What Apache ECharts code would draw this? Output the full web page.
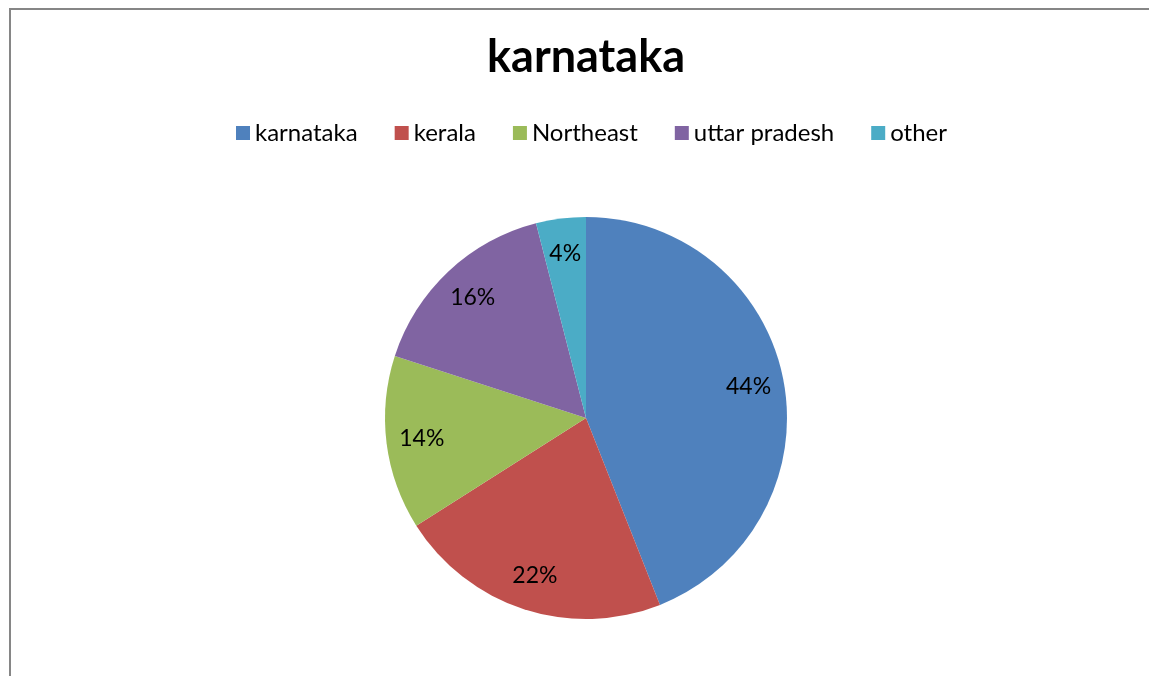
<!DOCTYPE html>
<html lang="en">
<head>
    <meta charset="UTF-8">
    <title>karnataka</title>
    <script src="https://cdn.jsdelivr.net/npm/echarts@6/dist/echarts.min.js"></script>
    <style>
        html, body { margin: 0; padding: 0; background: #fff; }
        #frame { position: absolute; left: 9px; top: 8px; width: 1150px; height: 680px;
                 border-left: 2px solid #868686; border-top: 2px solid #868686; }
        #main { position: absolute; left: 0; top: 0; width: 1149px; height: 676px; }
    </style>
</head>
<body>
<div id="frame"></div>
<div id="main"></div>
<script type="text/javascript">
    // 数据
    var regions = ['karnataka', 'kerala', 'Northeast', 'uttar pradesh', 'other'];
    var shares = [44, 22, 14, 16, 4];
    var colors = ['#4F81BD', '#C0504D', '#9BBB59', '#8064A2', '#4BACC6'];

    var pieData = [];
    for (var i = 0; i < regions.length; i++) {
        pieData.push({name: regions[i], value: shares[i]});
    }

    var myChart = echarts.init(document.getElementById('main'));
    var fontName = 'Lato, "Open Sans", sans-serif';

    var option = {
        animation: false,
        color: colors,
        title: {
            text: 'karnataka',
            left: 482,
            top: 30,
            textStyle: {fontFamily: fontName, fontSize: 45, fontWeight: 'bold', color: '#000'}
        },
        legend: {
            data: regions,
            top: 116,
            left: 231,
            itemWidth: 14,
            itemHeight: 14,
            itemGap: 37,
            icon: 'rect',
            textStyle: {fontFamily: fontName, fontSize: 24, color: '#000'}
        },
        series: [{
            name: 'share',
            type: 'pie',
            center: [586, 418],
            radius: [0, 201],
            startAngle: 90,
            clockwise: true,
            data: pieData,
            label: {show: false},
            labelLine: {show: false},
            emphasis: {disabled: true}
        }, {
            // 透明的一层，用来把百分比标签放到靠外的位置
            name: 'labels',
            type: 'pie',
            center: [586, 418],
            radius: [124, 201],
            startAngle: 90,
            clockwise: true,
            silent: true,
            data: pieData,
            itemStyle: {color: 'rgba(0,0,0,0)'},
            label: {
                show: true,
                position: 'inside',
                formatter: '{d}%',
                fontFamily: fontName,
                fontSize: 23,
                color: '#000'
            },
            labelLine: {show: false},
            emphasis: {disabled: true}
        }]
    };
    myChart.setOption(option);
</script>
</body>
</html>
